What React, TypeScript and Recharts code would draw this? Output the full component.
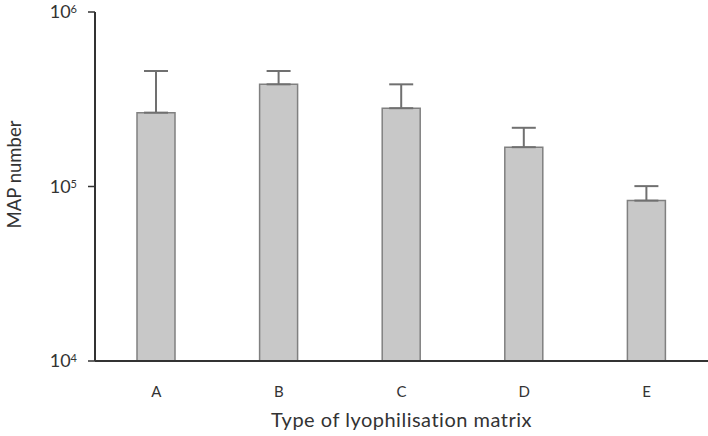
import { BarChart, Bar, XAxis, YAxis, ErrorBar } from 'recharts';

const categories = ['A', 'B', 'C', 'D', 'E'];
const mapMeans = [265000, 385000, 281000, 168000, 83000];
const mapUpper = [459000, 459000, 385000, 217000, 100500];
const yTicks = [10000, 100000, 1000000];

const data = categories.map((c, i) => ({
    name: c,
    value: mapMeans[i],
    err: [0, mapUpper[i] - mapMeans[i]],
}));

const FONT = 'Lato, "Open Sans", sans-serif';

const PowerTick = (props: any) => {
    const { x, y, payload } = props;
    const exp = Math.round(Math.log10(payload.value));
    return (
        <text x={x} y={y} dy={6} textAnchor="end" fontFamily={FONT} fontSize={18} fill="#333">
            10
            <tspan dy={-5} fontSize={11}>{exp}</tspan>
        </text>
    );
};

const YLabel = (props: any) => {
    const { viewBox } = props;
    const cx = viewBox.x + 14;
    const cy = viewBox.y + viewBox.height / 2 - 12;
    return (
        <text x={cx} y={cy} transform={`rotate(-90 ${cx} ${cy})`} textAnchor="middle" dominantBaseline="central"
            fontFamily={FONT} fontSize={18.5} fill="#333">
            MAP number
        </text>
    );
};

const XLabel = (props: any) => {
    const { viewBox } = props;
    return (
        <text x={viewBox.x + viewBox.width / 2} y={viewBox.y + 66} textAnchor="middle"
            fontFamily={FONT} fontSize={20} letterSpacing={0.5} fill="#333">
            Type of lyophilisation matrix
        </text>
    );
};

export default function App() {
    return (
        <div style={{ position: 'absolute', left: 0, top: 0, background: '#fff' }}>
            <BarChart width={708} height={436} data={data} margin={{ top: 12, right: 0, left: 0, bottom: 0 }}>
                <XAxis
                    dataKey="name"
                    height={75}
                    tickLine={false}
                    axisLine={{ stroke: '#333', strokeWidth: 2 }}
                    tickMargin={19}
                    tick={{ fontFamily: FONT, fontSize: 15, fill: '#333' }}
                    label={<XLabel />}
                />
                <YAxis
                    scale="log"
                    domain={[10000, 1000000]}
                    ticks={yTicks}
                    allowDataOverflow
                    width={95}
                    tickSize={7}
                    tickMargin={11}
                    axisLine={{ stroke: '#333', strokeWidth: 2 }}
                    tickLine={{ stroke: '#333', strokeWidth: 1.5 }}
                    tick={<PowerTick />}
                    label={<YLabel />}
                />
                <Bar dataKey="value" fill="#c8c8c8" stroke="#808080" strokeWidth={1.5} barSize={38} isAnimationActive={false}>
                    <ErrorBar dataKey="err" width={12} stroke="#707070" strokeWidth={2} direction="y" />
                </Bar>
            </BarChart>
        </div>
    );
}
